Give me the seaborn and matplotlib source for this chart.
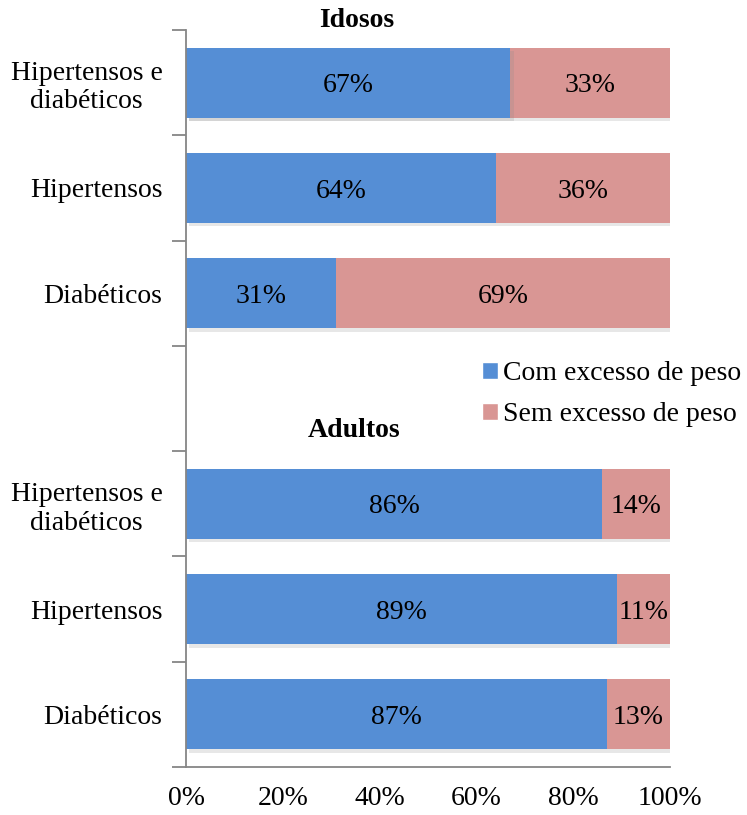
import matplotlib
matplotlib.use("Agg")
import matplotlib.pyplot as plt
import matplotlib.patheffects as pe
import matplotlib.transforms as mtransforms
from matplotlib.patches import Patch
import seaborn as sns
import pandas as pd
import numpy as np

keys = ["I_HD", "I_H", "I_D", "gap", "A_HD", "A_H", "A_D"]
labels = ["Hipertensos e\ndiabéticos", "Hipertensos", "Diabéticos", "",
          "Hipertensos e\ndiabéticos", "Hipertensos", "Diabéticos"]
com = [67, 64, 31, np.nan, 86, 89, 87]
sem = [33, 36, 69, np.nan, 14, 11, 13]
xticks = [0, 20, 40, 60, 80, 100]
series_names = ["Com excesso de peso", "Sem excesso de peso"]
group_titles = ["Idosos", "Adultos"]

blue = "#558ED5"
pink = "#D99694"

sns.set_theme(style="white")
plt.rcParams['font.family'] = ['Liberation Serif', 'DejaVu Serif']
plt.rcParams['text.color'] = 'black'
plt.rcParams['xtick.color'] = 'black'
plt.rcParams['ytick.color'] = 'black'
FS = 20

df = pd.DataFrame({"key": keys, "com": com, "sem": sem})
df["total"] = df["com"] + df["sem"]

fig = plt.figure(figsize=(7.47, 8.15), dpi=100)
ax = fig.add_axes([0.249, 0.0589, 0.648, 0.9043])

shadow = [pe.SimplePatchShadow(offset=(2.5, -2.5), shadow_rgbFace="#888888", alpha=0.2), pe.Normal()]
sns.barplot(data=df, y="key", x="total", order=keys, color=pink, saturation=1,
            width=0.665, ax=ax, linewidth=0)
sns.barplot(data=df, y="key", x="com", order=keys, color=blue, saturation=1,
            width=0.665, ax=ax, linewidth=0)
for i, p in enumerate(ax.patches):
    if i < len(keys):
        p.set_path_effects(shadow)

# value labels
for i, (c, s) in enumerate(zip(com, sem)):
    if np.isnan(c):
        continue
    ax.text(c / 2, i + 0.03, f"{int(c)}%", ha="center", va="center", fontsize=FS, color="black")
    ax.text(c + s / 2, i + 0.03, f"{int(s)}%", ha="center", va="center", fontsize=FS, color="black")

ax.set_xlim(0, 100)
ax.set_ylim(6.5, -0.5)
ax.set_xticks(xticks)
ax.set_xticklabels([f"{t}%" for t in xticks], fontsize=FS)
ax.set_yticks(range(len(keys)))
ax.set_yticklabels(labels, fontsize=FS)
ax.set_yticks(np.arange(-0.5, len(keys)), minor=True)
ax.tick_params(axis="y", which="major", length=0, pad=17)
ax.tick_params(axis="y", which="minor", length=10, width=1.3, color="#868686", left=True)
ax.tick_params(axis="x", which="major", length=0, pad=14)
for lab in ax.get_yticklabels():
    lab.set_multialignment("center")
ax.set_xlabel("")
ax.set_ylabel("")
for side in ["top", "right"]:
    ax.spines[side].set_visible(False)
for side in ["left", "bottom"]:
    ax.spines[side].set_color("#868686")
    ax.spines[side].set_linewidth(1.3)

blend = mtransforms.blended_transform_factory(ax.transAxes, ax.transData)
ax.text(0.353, -0.59, group_titles[0], transform=blend, ha="center", va="center",
        fontsize=FS, fontweight="bold", color="black", clip_on=False)
ax.text(0.347, 3.30, group_titles[1], transform=blend, ha="center", va="center",
        fontsize=FS, fontweight="bold", color="black")

handles = [Patch(facecolor=blue), Patch(facecolor=pink)]
fig.legend(handles, series_names, loc="upper left", bbox_to_anchor=(0.645, 0.557),
           frameon=False, fontsize=FS, handlelength=0.58, handleheight=0.58,
           handletextpad=0.2, labelspacing=0.58, borderaxespad=0, borderpad=0)

fig.savefig("out.png", dpi=100)
